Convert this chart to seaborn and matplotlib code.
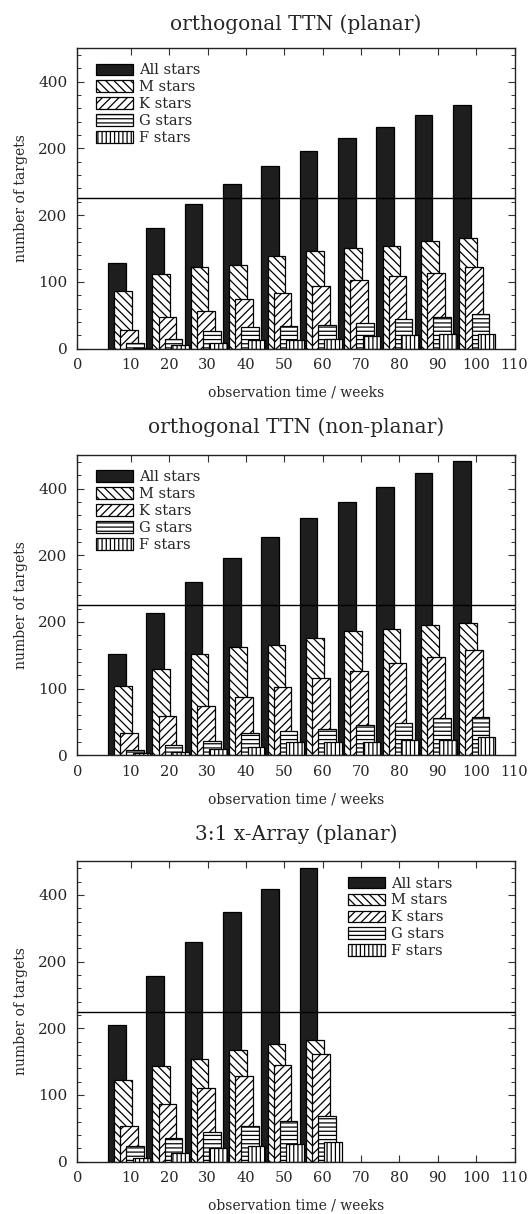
import numpy as np
import matplotlib
matplotlib.use("Agg")
import matplotlib.pyplot as plt
import seaborn as sns
from matplotlib.ticker import FixedLocator, FixedFormatter

# ---------------- data ----------------
weeks_long = [10, 20, 30, 40, 50, 60, 70, 80, 90, 100]
weeks_short = [10, 20, 30, 40, 50, 60]

# orthogonal TTN (planar)
p1_all = [128, 180, 217, 269, 321, 366, 405, 440, 476, 505]
p1_m = [87, 112, 122, 125, 138, 146, 151, 154, 161, 166]
p1_k = [28, 47, 56, 74, 83, 94, 103, 109, 114, 123]
p1_g = [9, 14, 27, 32, 34, 36, 38, 45, 48, 52]
p1_f = [1, 5, 8, 13, 13, 15, 19, 20, 22, 22]

# orthogonal TTN (non-planar)
p2_all = [152, 214, 296, 368, 430, 486, 535, 580, 623, 659]
p2_m = [104, 130, 152, 162, 166, 176, 186, 189, 196, 198]
p2_k = [34, 59, 74, 87, 103, 116, 126, 139, 147, 158]
p2_g = [8, 16, 22, 33, 37, 39, 46, 49, 56, 57]
p2_f = [4, 5, 10, 13, 20, 20, 20, 23, 23, 28]

# 3:1 x-Array (planar)
p3_all = [205, 332, 435, 523, 594, 655]
p3_m = [123, 143, 154, 167, 176, 182]
p3_k = [53, 87, 111, 129, 145, 161]
p3_g = [23, 35, 45, 54, 61, 69]
p3_f = [5, 13, 20, 23, 26, 29]

series_names = ["All stars", "M stars", "K stars", "G stars", "F stars"]
titles = ["orthogonal TTN (planar)", "orthogonal TTN (non-planar)", "3:1 x-Array (planar)"]

x_tick_pos = [-4, 10, 20, 30, 40, 50, 60, 70, 80, 90, 100, 110]
x_tick_lab = ["0", "10", "20", "30", "40", "50", "60", "70", "80", "90", "100", "110"]
y_tick_pos = [0, 100, 200, 375, 575]
y_tick_lab = ["0", "100", "200", "200", "400"]
y_minor_pos = [20, 40, 60, 80, 120, 140, 160, 180, 220,
               255, 295, 335, 415, 455, 495, 535, 615, 655]

# ---------------- style ----------------
sns.set_style("ticks")
plt.rcParams["font.family"] = ["DejaVu Serif"]
plt.rcParams["hatch.linewidth"] = 0.9
plt.rcParams["axes.linewidth"] = 1.0

offsets = [-3.7, -2.1, -0.5, 1.1, 2.7]
faces = ["#1e1e1e", "white", "white", "white", "white"]
hatches = [None, "\\\\\\\\", "////", "----", "||||"]

BREAK = 225.0


def fwd(y):
    y = np.asarray(y, dtype=float)
    return np.where(y <= BREAK, y, BREAK + (y - BREAK) * 0.5)


def inv(u):
    u = np.asarray(u, dtype=float)
    return np.where(u <= BREAK, u, BREAK + (u - BREAK) * 2.0)


panels = [
    (weeks_long, [p1_all, p1_m, p1_k, p1_g, p1_f]),
    (weeks_long, [p2_all, p2_m, p2_k, p2_g, p2_f]),
    (weeks_short, [p3_all, p3_m, p3_k, p3_g, p3_f]),
]

fig = plt.figure(figsize=(5.29, 12.14), dpi=100)
bottoms = [0.7129, 0.3778, 0.0431]
title_pads = [13, 15.5, 15.5]
legend_anchor = [(0.043, 0.949), (0.043, 0.949), (0.62, 0.949)]

for i, (weeks, data) in enumerate(panels):
    ax = fig.add_axes([0.1461, bottoms[i], 0.8265, 0.2475])
    for name, vals, off, fc, h in zip(series_names, data, offsets, faces, hatches):
        xpos = np.asarray(weeks, dtype=float) + off
        sns.barplot(x=xpos, y=vals, native_scale=True, orient="x", width=0.46,
                    color=fc, saturation=1, edgecolor="black", linewidth=0.9,
                    hatch=h, errorbar=None, label=name, ax=ax, zorder=2)
    ax.set_yscale("function", functions=(fwd, inv))
    ax.set_ylim(0, 676)
    ax.set_xlim(-4, 110)
    ax.axhline(BREAK, color="black", lw=1.0, zorder=3)

    ax.xaxis.set_major_locator(FixedLocator(x_tick_pos))
    ax.xaxis.set_major_formatter(FixedFormatter(x_tick_lab))
    ax.yaxis.set_major_locator(FixedLocator(y_tick_pos))
    ax.yaxis.set_major_formatter(FixedFormatter(y_tick_lab))
    ax.yaxis.set_minor_locator(FixedLocator(y_minor_pos))

    ax.tick_params(axis="both", which="major", direction="in", top=True, right=True,
                   length=5, width=0.8, color="#333333")
    ax.tick_params(axis="y", which="major", pad=7, labelsize=11)
    ax.tick_params(axis="x", which="major", pad=7, labelsize=10.5)
    ax.tick_params(axis="y", which="minor", direction="in", left=True, right=True,
                   length=3, width=0.7, color="#333333")
    for s in ax.spines.values():
        s.set_visible(True)
        s.set_color("#222222")

    ax.set_title(titles[i], fontsize=14.5, pad=title_pads[i])
    ax.set_xlabel("observation time / weeks", fontsize=10)
    ax.set_ylabel("number of targets", fontsize=10)
    ax.xaxis.set_label_coords(0.5, -0.122)
    ax.yaxis.set_label_coords(-0.112, 0.5)

    ax.legend(loc="upper left", bbox_to_anchor=legend_anchor[i], frameon=False,
              fontsize=10.5, handlelength=2.5, handleheight=0.85, labelspacing=0.2,
              handletextpad=0.45, borderpad=0, borderaxespad=0)

fig.savefig("out.png", dpi=100)
